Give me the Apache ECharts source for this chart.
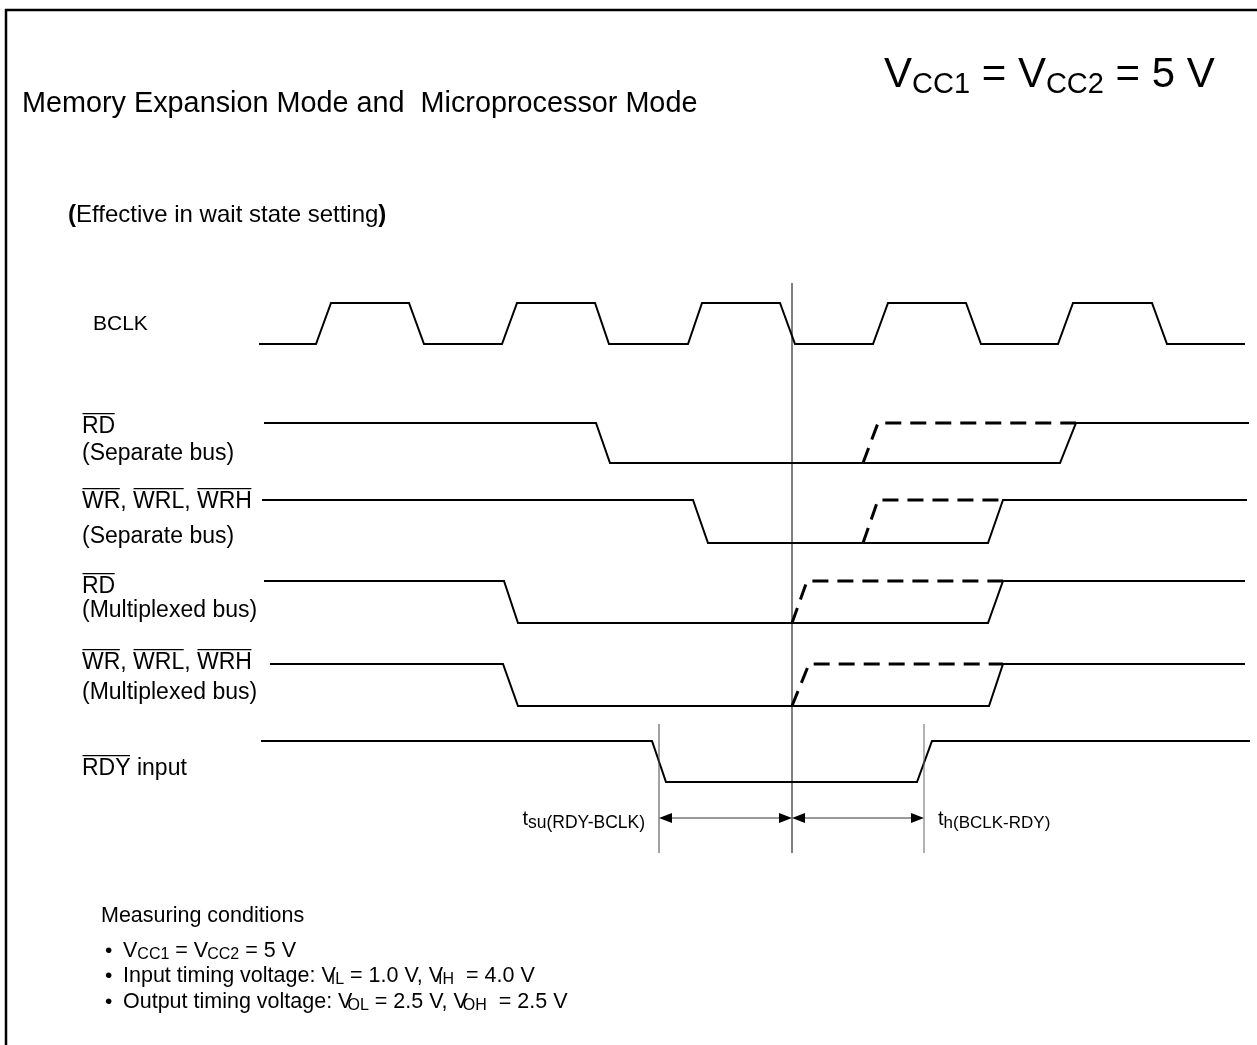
<!DOCTYPE html>
<html><head><meta charset="utf-8">
<script src="https://cdn.jsdelivr.net/npm/echarts@6/dist/echarts.min.js"></script>
<style>html,body{margin:0;padding:0;background:#fff}#c{width:1257px;height:1045px}</style>
</head><body><div id="c"></div><script>
// ---- waveform data (x: time position, y: level position) ----
const bclkWave = [[259,344],[316,344],[331,303],[409,303],[424,344],[502,344],[517,303],[595,303],[609,344],[688,344],[702,303],[780,303],[795,344],[873,344],[888,303],[966,303],[981,344],[1058,344],[1073,303],[1152,303],[1167,344],[1245,344]];
const rdSepWave = [[264,423],[596,423],[610,463],[1060,463],[1076,423],[1249,423]];
const rdSepDash = [[863,463],[878,423],[1076,423]];
const wrSepWave = [[262,500],[693,500],[708,543],[988,543],[1003,500],[1247,500]];
const wrSepDash = [[863,543],[878,500],[1003,500]];
const rdMuxWave = [[264,581],[504,581],[518,623],[988,623],[1003,581],[1245,581]];
const rdMuxDash = [[792,623],[807,581],[1003,581]];
const wrMuxWave = [[270,664],[503,664],[518,706],[989,706],[1003,664],[1245,664]];
const wrMuxDash = [[792,706],[809,664],[1003,664]];
const rdyWave = [[261,741],[652,741],[666,782],[917,782],[932,741],[1250,741]];
const refLineMain = [[792,283],[792,853]];
const refLineSetup = [[659,724],[659,853]];
const refLineHold = [[924,724],[924,853]];
const timeSpans = [[659,792,818],[792,924,818]];

// ---- text helpers ----
const FONT = '"Liberation Sans", Arial, Helvetica, sans-serif';
const mctx = document.createElement('canvas').getContext('2d');
function fontStr(size, bold){ return (bold ? 'bold ' : '') + size + 'px ' + FONT; }
function tw(t, size, bold){ mctx.font = fontStr(size, bold); return mctx.measureText(t).width; }
function midOff(size){ mctx.font = fontStr(size); mctx.textBaseline = 'middle'; const m = mctx.measureText('H'); mctx.textBaseline = 'alphabetic'; return m.actualBoundingBoxDescent; }
const els = [];
function run(x, base, segs, anchor){
  let total = 0;
  segs.forEach(s => { const o = s[3] || {}; total += tw(s[0], s[1], o.bold) + (o.dx || 0); });
  let cx = anchor === 'right' ? x - total : x;
  segs.forEach(s => {
    const [t, size, dy = 0, o = {}] = s;
    cx += (o.dx || 0);
    const w = tw(t, size, o.bold);
    const b = base + dy;
    els.push({type:'text', x: cx, y: b - midOff(size), silent:true,
      style:{text:t, font: fontStr(size, o.bold), fill:'#000', align:'left', verticalAlign:'middle', textAlign:'left', textVerticalAlign:'middle'}});
    if (o.over) {
      const oy = b - size * 0.716 - 3;
      els.push({type:'line', silent:true, shape:{x1:cx + 0.5, y1:oy, x2:cx + w - 0.5, y2:oy}, style:{stroke:'#000', lineWidth:1.2}});
    }
    cx += w;
  });
}
const LBL = 23;
run(22, 112, [['Memory Expansion Mode and  Microprocessor Mode', 28.8]]);
run(884, 87, [['V',42],['CC1',29,6],[' = ',42],['V',42],['CC2',29,6],[' = 5 V',42]]);
run(68, 222, [['(',24,0,{bold:true}],['Effective in wait state setting',24],[')',24,0,{bold:true}]]);
run(93, 330, [['BCLK', 21]]);
run(82, 433, [['RD', LBL, 0, {over:true}]]);
run(82, 460, [['(Separate bus)', LBL]]);
run(82, 508, [['WR', LBL, 0, {over:true}],[', ', LBL],['WRL', LBL, 0, {over:true}],[', ', LBL],['WRH', LBL, 0, {over:true}]]);
run(82, 543, [['(Separate bus)', LBL]]);
run(82, 593, [['RD', LBL, 0, {over:true}]]);
run(82, 617, [['(Multiplexed bus)', LBL]]);
run(82, 669, [['WR', LBL, 0, {over:true}],[', ', LBL],['WRL', LBL, 0, {over:true}],[', ', LBL],['WRH', LBL, 0, {over:true}]]);
run(82, 699, [['(Multiplexed bus)', LBL]]);
run(82, 775, [['RDY', LBL, 0, {over:true}],[' input', LBL]]);
run(645, 825, [['t',20],['su(RDY-BCLK)',17.5,3]], 'right');
run(938, 825, [['t',20],['h(BCLK-RDY)',17,3]]);
run(101, 922, [['Measuring conditions', 21.5]]);
run(105, 957, [['•', 21]]);
run(105, 982, [['•', 21]]);
run(105, 1008, [['•', 21]]);
run(123, 957, [['V',21.5],['CC1',16,2],[' = ',21.5],['V',21.5],['CC2',16,2,{dx:-1}],[' = 5 V',21.5]]);
run(123, 982, [['Input timing voltage: ',21.5],['V',21.5],['IL',16,2,{dx:-5}],[' = 1.0 V, ',21.5],['V',21.5],['IH',16,2,{dx:-5}],['  = 4.0 V',21.5]]);
run(123, 1008, [['Output timing voltage: ',21.5],['V',21.5],['OL',16,2,{dx:-5}],[' = 2.5 V, ',21.5],['V',21.5],['OH',16,2,{dx:-5}],['  = 2.5 V',21.5]]);
// frame
els.push({type:'line', silent:true, shape:{x1:6, y1:9, x2:6, y2:1045}, style:{stroke:'#000', lineWidth:2.5}});
els.push({type:'line', silent:true, shape:{x1:5, y1:10, x2:1257, y2:10}, style:{stroke:'#000', lineWidth:2.5}});

function solid(name, data, w){ return {name, type:'line', data, symbol:'none', silent:true, lineStyle:{color:'#000', width: w || 2, cap:'butt', join:'miter'}}; }
function dashed(name, data){ return {name, type:'line', data, symbol:'none', silent:true, z:3, lineStyle:{color:'#000', width:3, type:[16,9], cap:'butt'}}; }

const chart = echarts.init(document.getElementById('c'), null, {renderer:'canvas'});
chart.setOption({
  animation:false,
  backgroundColor:'#fff',
  grid:{left:0, right:0, top:0, bottom:0, containLabel:false},
  xAxis:{type:'value', min:0, max:1257, show:false},
  yAxis:{type:'value', min:0, max:1045, inverse:true, show:false},
  series:[
    solid('BCLK', bclkWave),
    solid('RD separate', rdSepWave), dashed('RD separate alt', rdSepDash),
    solid('WR separate', wrSepWave), dashed('WR separate alt', wrSepDash),
    solid('RD multiplexed', rdMuxWave), dashed('RD multiplexed alt', rdMuxDash),
    solid('WR multiplexed', wrMuxWave), dashed('WR multiplexed alt', wrMuxDash),
    solid('RDY input', rdyWave),
    solid('ref', refLineMain, 1),
    {name:'setup ref', type:'line', data:refLineSetup, symbol:'none', silent:true, lineStyle:{color:'#444', width:1}},
    {name:'hold ref', type:'line', data:refLineHold, symbol:'none', silent:true, lineStyle:{color:'#666', width:1}},
    {name:'spans', type:'custom', silent:true, data: timeSpans, encode:{x:[0,1], y:2},
      renderItem(params, api){
        const p1 = api.coord([api.value(0), api.value(2)]);
        const p2 = api.coord([api.value(1), api.value(2)]);
        const L = 13, H = 5;
        return {type:'group', children:[
          {type:'line', shape:{x1:p1[0] + L, y1:p1[1], x2:p2[0] - L, y2:p2[1]}, style:{stroke:'#333', lineWidth:1}},
          {type:'polygon', shape:{points:[[p1[0], p1[1]], [p1[0] + L, p1[1] - H], [p1[0] + L, p1[1] + H]]}, style:{fill:'#000'}},
          {type:'polygon', shape:{points:[[p2[0], p2[1]], [p2[0] - L, p2[1] - H], [p2[0] - L, p2[1] + H]]}, style:{fill:'#000'}}
        ]};
      }}
  ],
  graphic:{elements: els}
});
</script></body></html>
